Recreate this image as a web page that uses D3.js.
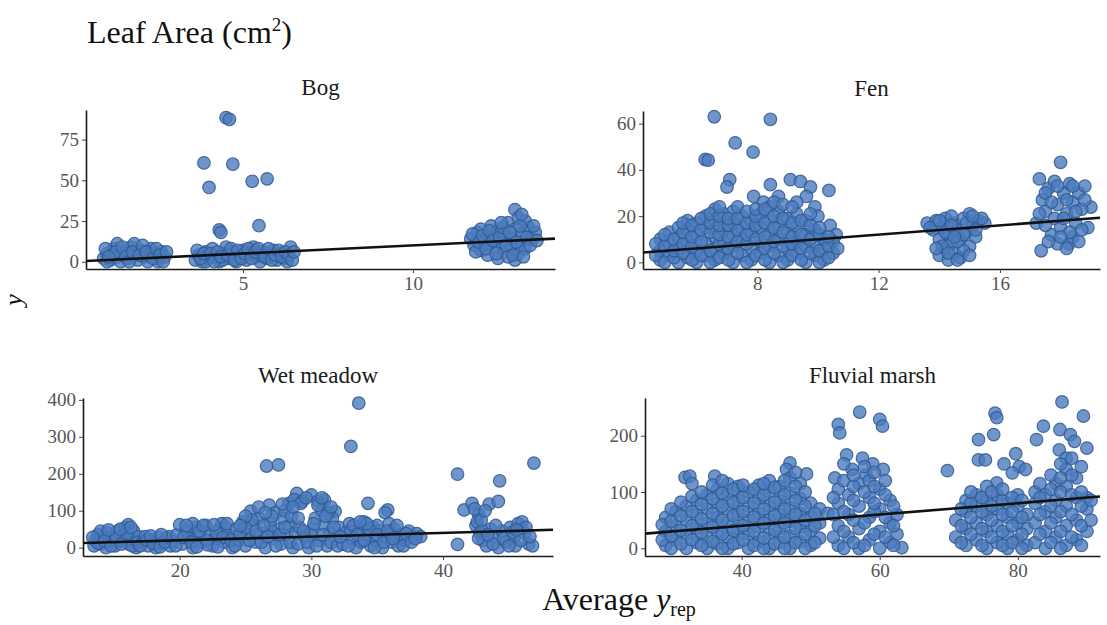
<!DOCTYPE html>
<html lang="en">
<head>
<meta charset="UTF-8">
<title>Leaf Area posterior check</title>
<script src="https://d3js.org/d3.v7.min.js"></script>
<style>
  body { margin: 0; background: #fff; }
  svg text { font-family: "Liberation Serif", "DejaVu Serif", serif; }
  .axis path { stroke: #1a1a1a; stroke-width: 1.6px; }
  .axis line { stroke: #444; stroke-width: 1px; }
  .axis text { fill: #555; font-size: 19px; font-family: "Liberation Serif", serif; }
  .pt { fill: #4b7bbd; fill-opacity: 0.8; stroke: #2f5a94; stroke-opacity: 0.85; stroke-width: 1.2px; }
  .fit { stroke: #111; stroke-width: 2.6px; }
  .strip { font-size: 23px; fill: #1a1a1a; }
</style>
</head>
<body>
<svg id="chart" width="1107" height="625"></svg>
<script>
  const panelNames = ['Bog', 'Fen', 'Wet meadow', 'Fluvial marsh'];

  // [average y_rep, y]
  const bogPoints = [
    [0.9,2],[1.0,5],[1.1,1],[1.2,8],[1.3,3],[1.3,11],[1.4,0],[1.5,6],[1.6,2],[1.7,9],[1.8,4],[1.8,11],
    [1.9,1],[2.0,7],[2.1,3],[2.2,0],[2.3,8],[2.4,5],[2.5,2],[2.6,6],[2.7,3],[1.0,0],[1.6,5],[2.2,4],[2.5,0],
    [0.95,8],[1.15,4],[1.25,6],[1.45,9],[1.55,3],[1.65,0],[1.75,6],[1.95,4],[2.05,10],[2.15,6],[2.35,2],
    [2.45,8],[2.55,4],[2.65,0],[1.05,3],[2.75,6],
    [3.6,1],[3.7,4],[3.8,0],[3.9,6],[4.0,2],[4.1,8],[4.2,3],[4.3,0],[4.4,5],[4.5,9],[4.6,2],[4.7,6],[4.8,0],
    [4.9,4],[5.0,7],[5.1,1],[5.2,5],[5.3,9],[5.4,3],[5.5,0],[5.6,6],[5.7,2],[5.8,4],[5.9,7],[6.0,1],[6.1,5],
    [6.2,2],[6.3,0],[6.4,9],[3.9,0],[4.4,1],[5.0,3],[5.5,4],[6.0,4],
    [3.65,7],[3.75,2],[3.85,5],[4.05,5],[4.15,0],[4.25,6],[4.35,3],[4.55,4],[4.65,8],[4.75,1],[4.85,7],
    [4.95,2],[5.05,5],[5.15,8],[5.25,2],[5.35,6],[5.45,8],[5.65,3],[5.75,8],[5.85,1],[5.95,4],[6.05,7],
    [6.15,3],[6.25,6],[6.35,4],[6.45,1],[6.5,6],
    [4.5,88.5],[4.6,87.5],[3.85,60.7],[4.7,59.9],[4.0,45.6],[5.27,49.4],[5.71,50.9],[4.3,19.5],[4.35,18],[5.47,22.1],
    [11.7,14],[11.8,10],[11.9,18],[12.0,7],[12.0,20],[12.1,13],[12.2,4],[12.3,16],[12.3,22],[12.4,9],[12.5,19],
    [12.5,2],[12.6,12],[12.7,6],[12.7,17],[12.8,24],[12.9,9],[12.9,14],[13.0,32],[13.0,1],[13.0,20],[13.1,27],
    [13.1,5],[13.2,12],[13.2,17],[13.3,8],[13.4,21],[13.5,14],[13.6,18],[12.2,11],[12.8,3],[13.3,25],
    [11.75,17],[11.85,6],[11.95,12],[12.05,16],[12.15,8],[12.25,19],[12.35,13],[12.45,5],[12.55,15],
    [12.65,21],[12.75,10],[12.85,18],[12.95,4],[13.05,12],[13.15,22],[13.25,3],[13.35,15],[13.45,10],
    [13.55,22],[13.65,13],[12.6,24],[13.2,29]
  ];

  const fenPoints = [
    [6.58,63],[8.43,61.9],[7.27,51.7],[7.86,47.7],[6.28,44.5],[6.38,44.2],[7.09,35.8],[7.0,32.6],[8.43,33.6],
    [9.09,35.8],[9.42,35.0],[9.75,32.6],[10.36,31.1],[7.88,28.5],[8.7,28.5],[9.62,28.5],[8.2,26],[9.3,26],
    [9.9,24],[10.0,20],[10.4,16],[10.6,12],
    [4.8,1],[4.8,5],[4.8,10],[5.1,3],[5.1,8],[5.1,13],[5.4,0],[5.4,6],[5.4,11],[5.4,15],[5.7,2],[5.7,9],[5.7,14],
    [5.7,18],[6.0,0],[6.0,5],[6.0,12],[6.0,17],[6.3,3],[6.3,8],[6.3,15],[6.3,20],[6.6,1],[6.6,6],[6.6,11],[6.6,18],
    [6.6,23],[6.9,4],[6.9,9],[6.9,14],[6.9,21],[7.2,0],[7.2,7],[7.2,12],[7.2,17],[7.2,22],[7.5,3],[7.5,10],[7.5,15],
    [7.5,20],[7.8,1],[7.8,6],[7.8,13],[7.8,18],[8.1,4],[8.1,9],[8.1,15],[8.1,21],[8.4,0],[8.4,7],[8.4,12],[8.4,18],
    [8.4,24],[8.7,3],[8.7,10],[8.7,16],[8.7,22],[9.0,1],[9.0,6],[9.0,13],[9.0,19],[9.3,4],[9.3,9],[9.3,15],[9.3,21],
    [9.6,0],[9.6,7],[9.6,12],[9.6,18],[9.9,3],[9.9,8],[9.9,14],[10.2,1],[10.2,6],[10.2,10],[10.5,4],[10.5,9],
    [4.65,3],[4.65,8],[4.95,0],[4.95,7],[4.95,12],[5.25,2],[5.25,5],[5.25,10],[5.55,4],[5.55,8],[5.55,13],
    [5.55,17],[5.85,1],[5.85,7],[5.85,11],[5.85,16],[6.15,3],[6.15,9],[6.15,14],[6.15,19],[6.45,0],[6.45,5],
    [6.45,13],[6.45,17],[6.45,21],[6.75,2],[6.75,8],[6.75,12],[6.75,16],[6.75,20],[6.75,24],[7.05,1],[7.05,6],
    [7.05,11],[7.05,16],[7.05,19],[7.35,4],[7.35,9],[7.35,14],[7.35,19],[7.35,24],[7.65,0],[7.65,8],[7.65,12],
    [7.65,17],[7.65,22],[7.95,3],[7.95,10],[7.95,16],[7.95,20],[7.95,23],[8.25,1],[8.25,6],[8.25,11],[8.25,17],
    [8.25,23],[8.55,4],[8.55,9],[8.55,15],[8.55,20],[8.55,26],[8.85,0],[8.85,7],[8.85,13],[8.85,19],[8.85,25],
    [9.15,3],[9.15,8],[9.15,11],[9.15,17],[9.15,24],[9.45,1],[9.45,6],[9.45,12],[9.45,18],[9.75,4],[9.75,10],
    [9.75,16],[9.75,21],[10.05,0],[10.05,5],[10.05,12],[10.05,15],[10.35,2],[10.35,7],[10.35,11],[10.65,6],
    [13.6,17],[13.8,14],[13.9,18],[14.0,3],[14.0,10],[14.1,15],[14.2,6],[14.2,19],[14.3,1],[14.3,12],[14.4,8],
    [14.5,17],[14.5,4],[14.6,14],[14.7,10],[14.7,2],[14.8,19],[14.9,13],[15.0,21],[15.0,7],[15.1,16],[15.2,11],
    [15.3,18],[15.5,17],[14.4,20],[14.8,5],
    [13.7,15],[14.0,18],[14.1,7],[14.2,13],[14.3,4],[14.4,16],[14.6,9],[14.6,1],[14.8,12],[14.9,17],[15.0,3],
    [15.2,14],[15.4,19],[13.9,6],[14.5,11],[15.1,20],
    [18.0,43.3],[17.3,36.1],[19.0,23.9],[17.36,5],[18.28,8],[17.2,17],[17.4,27],[17.5,22],[17.6,32],[17.7,12],
    [17.8,19],[17.8,35],[17.9,25],[18.0,15],[18.1,30],[18.2,21],[18.3,34],[18.4,11],[18.4,26],[18.5,17],[18.6,30],
    [18.6,9],[18.7,23],[18.8,33],[18.9,15],[17.9,8],[18.3,13],[17.5,16],
    [17.3,21],[17.5,30],[17.7,26],[17.9,33],[18.1,19],[18.2,27],[18.4,33],[18.5,22],[18.7,14],[18.8,27],
    [17.6,9],[18.0,11],[18.2,6]
  ];

  const wetMeadowPoints = [
    [13.5,5],[13.6,20],[13.8,35],[14.0,10],[14.2,28],[14.4,0],[14.5,40],[14.7,15],[14.9,30],[15.1,5],[15.3,45],
    [15.5,20],[15.7,35],[15.9,55],[16.1,62],[16.1,10],[16.3,25],[16.5,45],[16.7,0],[16.9,30],[15.0,20],[14.0,45],
    [13.8,12],[14.3,18],[14.8,5],[15.2,28],[15.6,10],[16.0,38],[16.4,5],[16.8,15],[14.6,48],[15.5,50],[16.3,55],
    [13.4,28],
    [17.2,15],[17.4,30],[17.6,5],[17.9,22],[18.2,0],[18.4,28],[18.7,12],[19.0,25],[19.3,5],[19.5,18],
    [17.0,5],[17.5,20],[18.0,12],[18.5,2],[18.9,15],[19.2,30],[17.8,32],[18.6,35],
    [19.8,35],[20.0,62],[20.2,10],[20.5,45],[20.7,25],[21.0,0],[21.2,55],[21.4,30],[21.7,15],[22.0,60],[22.2,40],
    [22.5,5],[22.7,25],[23.0,50],[23.2,65],[23.4,15],[23.7,35],[24.0,0],[21.0,65],[22.0,20],[23.5,55],
    [19.7,5],[20.3,28],[20.9,15],[21.5,45],[22.1,8],[22.8,42],[23.3,28],[23.9,20],[20.5,60],[21.8,60],[22.6,62],
    [23.6,65],[21.3,2],[22.9,2],
    [24.3,50],[24.5,20],[24.8,70],[25.0,5],[25.2,35],[25.4,99],[25.6,60],[25.8,15],[26.0,80],[26.2,40],[26.5,0],
    [26.6,221],[26.8,115],[26.9,65],[27.1,25],[27.3,95],[27.5,224],[27.5,50],[27.7,10],[27.9,80],[28.1,35],
    [28.3,120],[28.4,60],[28.6,0],[26.0,110],[27.0,45],[25.5,75],[28.0,100],
    [24.2,5],[24.6,38],[25.0,55],[25.3,20],[25.8,45],[26.2,15],[26.4,60],[26.7,30],[27.0,85],[27.3,5],[27.6,35],
    [28.0,55],[28.4,15],[25.0,85],[26.5,95],[27.8,118],[24.6,60],
    [28.9,147],[30.0,143],[31.0,129],[31.8,98],[28.7,130],[29.3,125],[30.5,125],[28.8,40],[29.0,10],[29.2,120],
    [29.5,30],[29.8,0],[30.1,50],[30.3,80],[30.6,20],[30.8,100],[31.0,60],[31.2,5],[31.4,40],[31.6,80],[31.9,25],
    [32.1,55],[28.5,85],[29.1,55],[30.5,115],[31.3,95],[30.0,35],
    [28.6,110],[29.0,80],[29.4,45],[29.7,15],[30.2,65],[30.4,5],[30.9,35],[31.1,85],[31.5,15],[31.7,55],[32.0,5],
    [29.6,135],[30.8,135],[31.5,110],
    [33.0,274],[33.6,391],[34.3,120],[35.8,102],[35.6,95],
    [32.4,10],[32.6,40],[32.9,65],[33.1,25],[33.4,0],[33.6,50],[33.8,15],[34.0,70],[34.2,35],[34.5,5],[34.7,55],
    [34.9,20],[35.2,45],[35.4,0],[35.6,30],[35.9,65],[36.1,15],[36.3,50],[36.6,5],[36.8,35],[37.1,20],[37.4,45],
    [37.7,30],[38.0,38],[38.3,30],[33.0,45],[35.0,60],[36.0,40],
    [32.2,30],[32.8,5],[33.2,60],[33.5,35],[34.0,20],[34.4,50],[34.8,0],[35.0,35],[35.5,15],[35.8,45],[36.2,25],
    [36.5,60],[37.0,5],[37.2,38],[37.6,15],[37.9,25],[34.2,65],[33.7,70],
    [41.1,199],[44.3,181],[46.9,229],[41.1,9],[41.6,102],[42.2,120],[42.7,90],[43.5,118],[44.2,125],[42.5,60],
    [42.8,40],[43.0,20],[43.3,5],[43.6,50],[43.9,30],[44.2,0],[44.5,45],[44.8,15],[45.1,55],[45.4,30],[45.7,65],
    [46.0,70],[46.2,40],[46.5,10],[45.5,5],[42.6,70],[46.8,5],[43.0,45],
    [42.4,105],[42.9,75],[43.2,100],[42.7,25],[43.8,10],[44.0,60],[44.6,25],[45.0,5],[45.3,42],[45.9,20],
    [46.3,55],[46.6,30],[43.4,35],[45.6,48]
  ];

  const fluvialMarshPoints = [
    [31.8,126],[32.5,128],[36.1,128],[47.0,151.5],[49.4,132],[46.5,140],
    [29,5],[29,30],[29,55],[30.5,15],[30.5,40],[30.5,65],[32,0],[32,25],[32,50],[32,75],[33.5,10],[33.5,35],
    [33.5,60],[33.5,85],[35,0],[35,20],[35,45],[35,70],[35,95],[36.5,8],[36.5,30],[36.5,55],[36.5,80],[36.5,105],
    [38,0],[38,20],[38,45],[38,70],[38,95],[38,115],[39.5,10],[39.5,35],[39.5,60],[39.5,85],[39.5,110],
    [41,0],[41,25],[41,50],[41,75],[41,100],[42.5,12],[42.5,38],[42.5,62],[42.5,88],[42.5,112],
    [44,0],[44,25],[44,50],[44,75],[44,100],[44,120],[45.5,10],[45.5,35],[45.5,60],[45.5,85],[45.5,110],
    [47,0],[47,22],[47,48],[47,72],[47,98],[47,125],[48.5,12],[48.5,38],[48.5,62],[48.5,88],[48.5,115],
    [50,5],[50,30],[50,55],[50,80],[51.3,18],[51.3,45],[51.3,70],[52.5,62],
    [28.5,15],[28.5,42],[29.8,0],[29.8,22],[29.8,48],[29.8,70],[31.2,8],[31.2,32],[31.2,58],[31.2,82],
    [32.8,15],[32.8,40],[32.8,65],[32.8,92],[32.8,115],[34.2,5],[34.2,28],[34.2,52],[34.2,78],[34.2,100],
    [35.8,12],[35.8,38],[35.8,62],[35.8,88],[35.8,112],[37.2,0],[37.2,25],[37.2,50],[37.2,75],[37.2,98],
    [37.2,120],[38.8,8],[38.8,32],[38.8,58],[38.8,82],[38.8,105],[40.2,15],[40.2,40],[40.2,65],[40.2,90],
    [40.2,112],[41.8,5],[41.8,30],[41.8,55],[41.8,80],[41.8,105],[43.2,0],[43.2,18],[43.2,45],[43.2,70],
    [43.2,95],[43.2,115],[44.8,8],[44.8,32],[44.8,58],[44.8,82],[44.8,108],[46.2,0],[46.2,20],[46.2,45],
    [46.2,70],[46.2,95],[46.2,120],[47.8,10],[47.8,35],[47.8,60],[47.8,85],[47.8,110],[47.8,135],[49.2,0],
    [49.2,25],[49.2,50],[49.2,75],[49.2,100],[50.6,10],[50.6,40],[50.6,62],
    [57.1,242],[60.0,229],[60.4,217],[54.0,220],[54.2,205],[55.2,166],[57.5,160],[59.0,150],[56.0,140],
    [60.5,140],[53.5,125],[58.0,130],
    [54,5],[54,40],[54,80],[54,105],[55.5,20],[55.5,60],[55.5,95],[57,0],[57,35],[57,75],[57,115],
    [58.5,15],[58.5,55],[58.5,90],[58.5,120],[60,0],[60,30],[60,70],[60,105],[61.5,10],[61.5,45],[61.5,85],
    [62.5,25],[62.5,60],[63.2,1],[69.8,138],
    [53.3,20],[53.3,60],[53.3,90],[54.8,0],[54.8,30],[54.8,65],[54.8,120],[54.8,150],[56.2,10],[56.2,50],
    [56.2,85],[56.2,110],[56.2,130],[57.8,5],[57.8,45],[57.8,100],[57.8,145],[59.2,25],[59.2,65],[59.2,80],
    [59.2,110],[59.2,135],[60.8,20],[60.8,55],[60.8,95],[60.8,120],[62,5],[62,40],[62,75],
    [76.7,240],[76.95,232],[74.3,193],[76.5,202],[74.3,157],[75.3,157],[79.7,168],[80.2,145],[81.1,140],
    [79.2,134],[76.95,116],[78.0,150],[75.5,110],
    [71,20],[71,50],[72.5,5],[72.5,35],[72.5,65],[72.5,85],[74,15],[74,45],[74,75],[74,95],[75.5,0],[75.5,30],
    [75.5,60],[75.5,85],[77,10],[77,40],[77,70],[77,95],[78.5,0],[78.5,25],[78.5,55],[78.5,80],[80,15],[80,45],
    [80,75],[80,95],[81.3,5],[81.3,35],[81.3,60],
    [71.8,10],[71.8,40],[71.8,70],[73.2,25],[73.2,55],[73.2,80],[73.2,100],[74.8,5],[74.8,35],[74.8,65],
    [74.8,90],[76.2,20],[76.2,50],[76.2,75],[76.2,100],[77.8,5],[77.8,30],[77.8,60],[77.8,85],[77.8,105],
    [79.2,10],[79.2,40],[79.2,65],[79.2,90],[80.6,0],[80.6,25],[80.6,55],[80.6,85],
    [86.4,260],[89.5,235],[83.7,217],[86.1,211],[87.6,202],[82.7,193],[90.0,178],[88.2,190],[86.0,175],[87.0,160],
    [82.5,10],[82.5,45],[82.5,80],[82.5,100],[84,0],[84,30],[84,65],[84,95],[85.5,20],[85.5,55],[85.5,85],
    [85.5,115],[87,5],[87,40],[87,75],[87,110],[87,140],[88.5,15],[88.5,50],[88.5,90],[88.5,125],[90,30],
    [90,70],[90,90],
    [83.2,25],[83.2,60],[83.2,90],[83.2,115],[84.8,10],[84.8,45],[84.8,75],[84.8,105],[84.8,130],[86.2,0],
    [86.2,30],[86.2,65],[86.2,100],[86.2,125],[86.2,150],[87.8,20],[87.8,60],[87.8,95],[87.8,130],[87.8,160],
    [89.2,5],[89.2,40],[89.2,75],[89.2,100],[89.2,145],[90.6,50],[90.6,85]
  ];

  const xDomains = [[0.38, 14.18], [4.23, 19.3], [12.66, 48.35], [26, 91.9]];
  const yDomains = [[-4.5, 93.2], [-2.9, 65.5], [-22.5, 405], [-13.7, 267]];
  const xTicks = [[5, 10], [8, 12, 16], [20, 30, 40], [40, 60, 80]];
  const yTicks = [[0, 25, 50, 75], [0, 20, 40, 60], [0, 100, 200, 300, 400], [0, 100, 200]];
  const fitLine = { intercept: 0, slope: 1 };

  const allPoints = [bogPoints, fenPoints, wetMeadowPoints, fluvialMarshPoints];

  // panel boxes in pixels
  const boxes = [
    { left: 86, right: 555, top: 110, bottom: 269 },
    { left: 643, right: 1100, top: 111, bottom: 269 },
    { left: 83, right: 553, top: 398, bottom: 556 },
    { left: 645, right: 1100, top: 398, bottom: 556 }
  ];

  const svg = d3.select('#chart');

  const title = svg.append('text')
    .attr('x', 87).attr('y', 43)
    .attr('font-size', 32).attr('fill', '#111');
  title.append('tspan').text('Leaf Area (cm');
  title.append('tspan').attr('dy', -12).attr('font-size', 19).text('2');
  title.append('tspan').attr('dy', 12).text(')');

  panelNames.forEach((name, i) => {
    const b = boxes[i];
    const x = d3.scaleLinear().domain(xDomains[i]).range([b.left, b.right]);
    const y = d3.scaleLinear().domain(yDomains[i]).range([b.bottom, b.top]);
    const g = svg.append('g');

    g.append('clipPath').attr('id', 'clip' + i)
      .append('rect')
      .attr('x', b.left).attr('y', b.top - 8)
      .attr('width', b.right - b.left).attr('height', b.bottom - b.top + 8);

    g.append('text').attr('class', 'strip')
      .attr('x', (b.left + b.right) / 2).attr('y', b.top - 15)
      .attr('text-anchor', 'middle')
      .text(name);

    g.append('g').attr('clip-path', `url(#clip${i})`)
      .selectAll('circle')
      .data(allPoints[i])
      .join('circle')
      .attr('class', 'pt')
      .attr('cx', d => x(d[0]))
      .attr('cy', d => y(d[1]))
      .attr('r', 6.3);

    const [x0, x1] = xDomains[i];
    g.append('line').attr('class', 'fit')
      .attr('x1', x(x0)).attr('y1', y(fitLine.intercept + fitLine.slope * x0))
      .attr('x2', x(x1)).attr('y2', y(fitLine.intercept + fitLine.slope * x1));

    g.append('g').attr('class', 'axis')
      .attr('transform', `translate(0,${b.bottom})`)
      .call(d3.axisBottom(x).tickValues(xTicks[i]).tickSize(4).tickSizeOuter(0).tickPadding(4));

    g.append('g').attr('class', 'axis')
      .attr('transform', `translate(${b.left},0)`)
      .call(d3.axisLeft(y).tickValues(yTicks[i]).tickSize(4).tickSizeOuter(0).tickPadding(3));
  });

  // axis titles
  svg.append('text')
    .attr('transform', 'translate(22,300) rotate(-90)')
    .attr('text-anchor', 'middle')
    .attr('font-size', 26).attr('font-style', 'italic').attr('fill', '#111')
    .text('y');

  const xt = svg.append('text')
    .attr('x', 619).attr('y', 610)
    .attr('text-anchor', 'middle')
    .attr('font-size', 32).attr('fill', '#111');
  xt.append('tspan').text('Average ');
  xt.append('tspan').attr('font-style', 'italic').text('y');
  xt.append('tspan').attr('font-size', 20).attr('dy', 6).text('rep');
</script>
</body>
</html>
